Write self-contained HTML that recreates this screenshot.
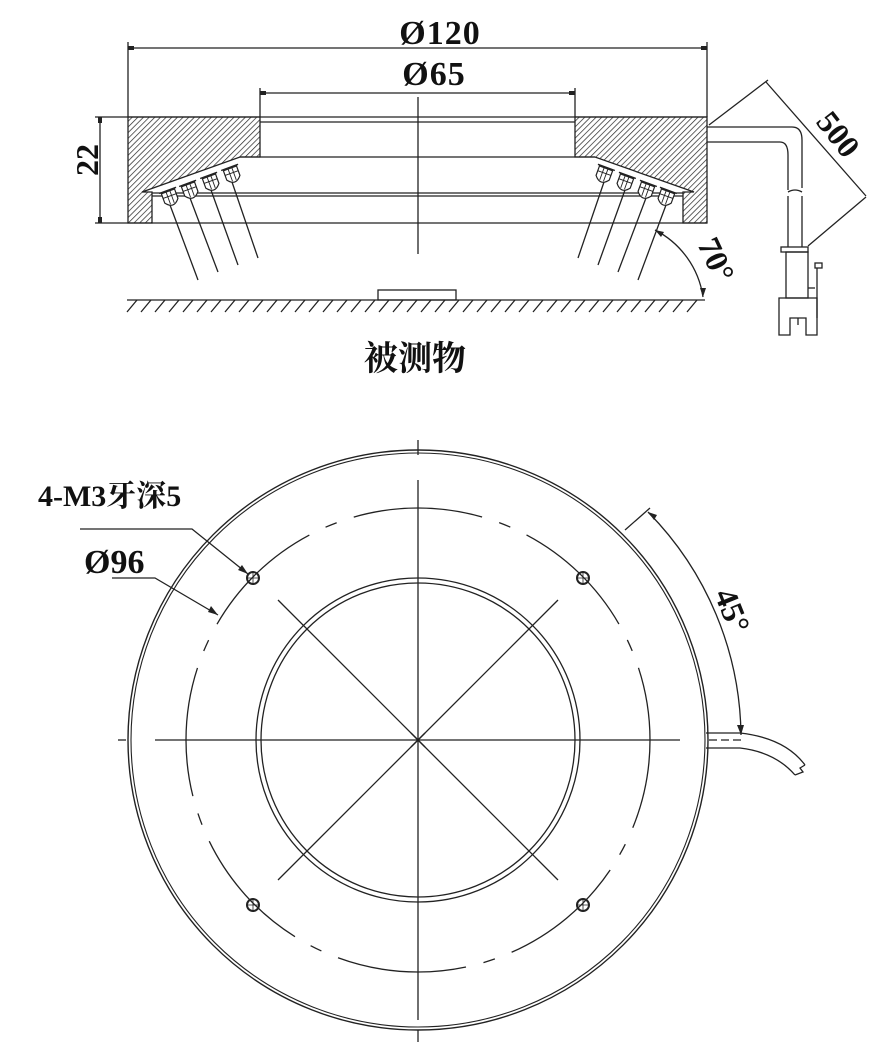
<!DOCTYPE html>
<html><head><meta charset="utf-8"><style>
html,body{margin:0;padding:0;background:#fff;}
svg{display:block;}
.t{font-family:"Liberation Serif","Noto Serif CJK SC",serif;font-weight:bold;fill:#111;}
</style></head><body>
<svg width="876" height="1042" viewBox="0 0 876 1042" xmlns="http://www.w3.org/2000/svg">
<defs>
<pattern id="h" width="4" height="4" patternUnits="userSpaceOnUse" patternTransform="rotate(45)">
<line x1="0" y1="0" x2="0" y2="4" stroke="#222" stroke-width="1.4"/>
</pattern>
<g id="led">
<path d="M-7,-6 L7,-6 L7,4 Q0,13 -7,4 Z" fill="#fff" stroke="#222" stroke-width="1.2"/>
<line x1="-7" y1="-1" x2="7" y2="-1" stroke="#222" stroke-width="0.9"/>
<line x1="-2" y1="-6" x2="-2" y2="7" stroke="#222" stroke-width="0.9"/>
<line x1="2" y1="-6" x2="2" y2="7" stroke="#222" stroke-width="0.9"/>
<line x1="-9" y1="-7" x2="9" y2="-7" stroke="#222" stroke-width="1.4"/>
</g>
</defs>
<g stroke="#222" fill="none" stroke-width="1.3">
<line x1="128" y1="42" x2="128" y2="117"/>
<line x1="707" y1="42" x2="707" y2="117"/>
<line x1="128" y1="48" x2="707" y2="48"/>
<line x1="260" y1="88" x2="260" y2="117"/>
<line x1="575" y1="88" x2="575" y2="117"/>
<line x1="260" y1="93" x2="575" y2="93"/>
<line x1="418" y1="97" x2="418" y2="254"/>
<line x1="100" y1="117" x2="100" y2="223"/>
<line x1="95" y1="117" x2="128" y2="117"/>
<line x1="95" y1="223" x2="128" y2="223"/>
<path d="M128,117 L260,117 L260,157 L240,157 L142,192 L152,192 L152,223 L128,223 Z" fill="url(#h)" stroke="#222"/>
<path d="M707,117 L575,117 L575,157 L595,157 L694,192 L683,192 L683,223 L707,223 Z" fill="url(#h)" stroke="#222"/>
<line x1="128" y1="117" x2="707" y2="117"/>
<line x1="260" y1="122" x2="575" y2="122"/>
<line x1="240" y1="157" x2="595" y2="157"/>
<line x1="152" y1="193" x2="683" y2="193"/>
<line x1="152" y1="196" x2="683" y2="196"/>
<line x1="128" y1="223" x2="707" y2="223"/>
<line x1="170" y1="205" x2="198" y2="280"/>
<line x1="190" y1="198" x2="218" y2="272"/>
<line x1="211" y1="190" x2="238" y2="265"/>
<line x1="232" y1="182" x2="258" y2="258"/>
<line x1="666" y1="205" x2="638" y2="280"/>
<line x1="646" y1="198" x2="618" y2="272"/>
<line x1="625" y1="190" x2="598" y2="265"/>
<line x1="604" y1="182" x2="578" y2="258"/>
</g>
<g>
<use href="#led" transform="translate(170,197) rotate(-20)"/>
<use href="#led" transform="translate(190,190) rotate(-20)"/>
<use href="#led" transform="translate(211,182) rotate(-20)"/>
<use href="#led" transform="translate(232,174) rotate(-20)"/>
<use href="#led" transform="translate(666,197) rotate(20)"/>
<use href="#led" transform="translate(646,190) rotate(20)"/>
<use href="#led" transform="translate(625,182) rotate(20)"/>
<use href="#led" transform="translate(604,174) rotate(20)"/>
</g>
<g stroke="#222" fill="none" stroke-width="1.3">
<line x1="127" y1="300" x2="705" y2="300"/>
<rect x="378" y="290" width="78" height="10"/>
<path d="M127,312 L137,300 M141,312 L151,300 M155,312 L165,300 M169,312 L179,300 M183,312 L193,300 M197,312 L207,300 M211,312 L221,300 M225,312 L235,300 M239,312 L249,300 M253,312 L263,300 M267,312 L277,300 M281,312 L291,300 M295,312 L305,300 M309,312 L319,300 M323,312 L333,300 M337,312 L347,300 M351,312 L361,300 M365,312 L375,300 M379,312 L389,300 M393,312 L403,300 M407,312 L417,300 M421,312 L431,300 M435,312 L445,300 M449,312 L459,300 M463,312 L473,300 M477,312 L487,300 M491,312 L501,300 M505,312 L515,300 M519,312 L529,300 M533,312 L543,300 M547,312 L557,300 M561,312 L571,300 M575,312 L585,300 M589,312 L599,300 M603,312 L613,300 M617,312 L627,300 M631,312 L641,300 M645,312 L655,300 M659,312 L669,300 M673,312 L683,300 M687,312 L697,300"/>
<path d="M655,230 A90,90 0 0,1 703,297"/>
<line x1="709" y1="125" x2="768" y2="80"/>
<line x1="808" y1="246" x2="866" y2="197"/>
<line x1="766" y1="82" x2="866" y2="196"/>
<path d="M707,127 L792,127 Q802,127 802,140 L802,188"/>
<path d="M707,142 L780,142 Q788,142 788,155 L788,190"/>
<path d="M788,192 Q795,188 802,192"/>
<path d="M788,196 L788,247 M802,196 L802,247"/>
<rect x="781" y="247" width="27" height="5"/>
<rect x="786" y="252" width="22" height="46"/>
<path d="M779,298 L817,298 L817,335 L806,335 L806,318 L790,318 L790,335 L779,335 Z"/>
<line x1="798" y1="318" x2="798" y2="325"/>
<rect x="815" y="263" width="7" height="5"/>
<line x1="817" y1="268" x2="817" y2="318"/>
<line x1="808" y1="288" x2="815" y2="288"/>
</g>
<g fill="#222">
<rect x="128" y="46" width="6" height="4"/><rect x="701" y="46" width="6" height="4"/>
<rect x="260" y="91" width="6" height="4"/><rect x="569" y="91" width="6" height="4"/>
<rect x="98" y="117" width="4" height="6"/><rect x="98" y="217" width="4" height="6"/>
</g>
<text class="t" x="440" y="44" font-size="34" text-anchor="middle" letter-spacing="1">Ø120</text>
<text class="t" x="434" y="85" font-size="34" text-anchor="middle" letter-spacing="1">Ø65</text>
<text class="t" font-size="32" transform="translate(98,160) rotate(-90)" text-anchor="middle">22</text>
<text class="t" font-size="32" transform="translate(815,122) rotate(52)">500</text>
<text class="t" font-size="32" transform="translate(697,244) rotate(65)">70°</text>
<text class="t" x="415" y="370" font-size="34" text-anchor="middle" font-family="Noto Sans CJK SC,sans-serif">被测物</text>

<g stroke="#222" fill="none" stroke-width="1.3">
<circle cx="418" cy="740" r="290" stroke-width="1.4"/>
<circle cx="418" cy="740" r="287" stroke-width="1.1"/>
<circle cx="418" cy="740" r="232" stroke-dasharray="130 18 12 18" stroke-dashoffset="40"/>
<circle cx="418" cy="740" r="162"/>
<circle cx="418" cy="740" r="157"/>
<line x1="155" y1="740" x2="680" y2="740"/>
<line x1="118" y1="740" x2="126" y2="740"/>
<line x1="418" y1="440" x2="418" y2="455"/>
<line x1="418" y1="480" x2="418" y2="1020"/>
<line x1="418" y1="1030" x2="418" y2="1042"/>
<line x1="278" y1="600" x2="558" y2="880"/>
<line x1="558" y1="600" x2="278" y2="880"/>
<line x1="411" y1="733" x2="425" y2="747"/><line x1="425" y1="733" x2="411" y2="747"/>
<circle cx="253" cy="578" r="6" stroke-width="2"/>
<circle cx="583" cy="578" r="6" stroke-width="2"/>
<circle cx="253" cy="905" r="6" stroke-width="2"/>
<circle cx="583" cy="905" r="6" stroke-width="2"/>
<path d="M246,578 H260 M253,571 V585 M576,578 H590 M583,571 V585 M246,905 H260 M253,898 V912 M576,905 H590 M583,898 V912" stroke-width="0.8"/>
<path d="M80,529 L192,529 L248,574"/>
<path d="M112,578 L155,578 L218,615"/>
<line x1="625" y1="530" x2="650" y2="508"/>
<path d="M648,512 A323,323 0 0,1 741,735"/>
<path d="M706,733 L740,733 Q785,738 805,765"/>
<path d="M706,748 L740,748 Q775,752 795,775"/>
<path d="M805,765 L800,768 L803,772 L795,775"/>
<line x1="709" y1="740" x2="745" y2="740" stroke-dasharray="8 4"/>
</g>
<g fill="#222">
<path d="M248,574 L238,570 L242,565 Z"/>
<path d="M218,615 L208,612 L211,606 Z"/>
<path d="M741,735 L737,725 L744,725 Z"/>
<path d="M648,512 L654,520 L657,515 Z"/>
<path d="M703,297 L700,288 L706,288 Z"/>
<path d="M655,230 L664,232 L661,237 Z"/>
</g>
<text class="t" x="38" y="506" font-size="30">4-M3牙深5</text>
<text class="t" x="84" y="573" font-size="34">Ø96</text>
<text class="t" font-size="32" transform="translate(714,594) rotate(68)">45°</text>
</svg>
</body></html>
